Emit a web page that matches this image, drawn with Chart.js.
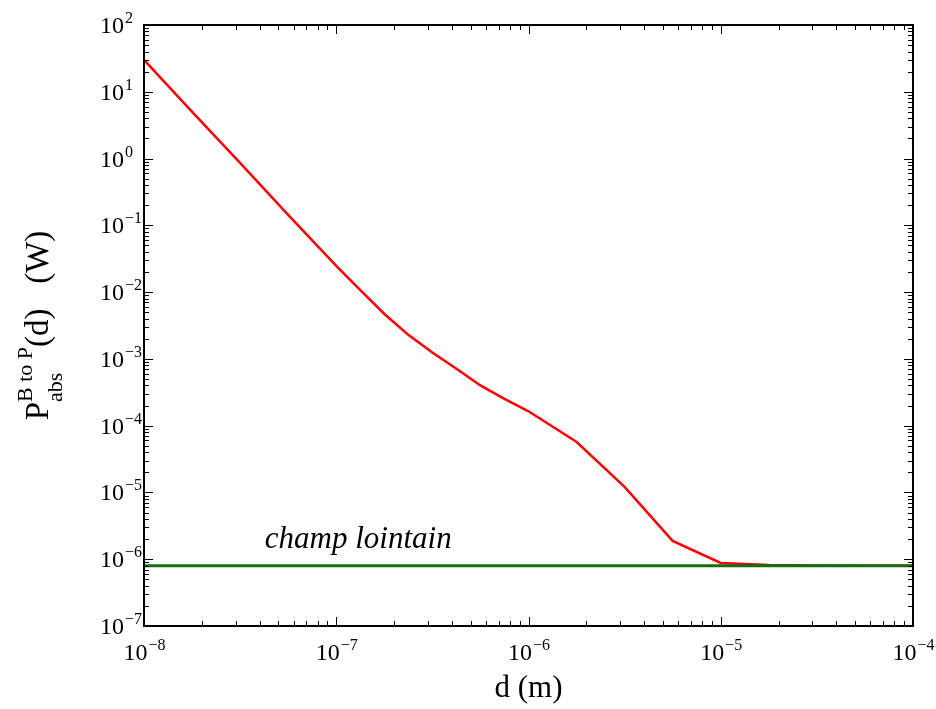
<!DOCTYPE html>
<html>
<head>
<meta charset="utf-8">
<script src="https://cdn.jsdelivr.net/npm/chart.js@4.4.1/dist/chart.umd.min.js"></script>
<style>
  body { margin: 0; background: #fff; }
  canvas { display: block; }
</style>
</head>
<body>
<canvas id="absChart" width="936" height="709"></canvas>
<script>
// distance d (m)
const distances = [1e-8, 1.78e-8, 3.16e-8, 5.62e-8, 1e-7, 1.33e-7, 1.78e-7, 2.37e-7, 3.16e-7,
                   4.22e-7, 5.62e-7, 7.5e-7, 1e-6, 1.78e-6, 3.16e-6, 5.62e-6, 1e-5,
                   1.78e-5, 3.16e-5, 5.62e-5, 1e-4];
// absorbed power B to P (W)
const powerAbs = [30, 5.0, 0.86, 0.143, 0.0247, 0.0108, 4.7e-3, 2.29e-3, 1.25e-3,
                  7.1e-4, 4.0e-4, 2.52e-4, 1.64e-4, 5.7e-5, 1.21e-5, 1.88e-6, 8.8e-7,
                  8.2e-7, 8.05e-7, 8.0e-7, 8.0e-7];
// far field level
const farFieldD = [1e-8, 1e-4];
const farFieldP = [8e-7, 8e-7];
const farFieldLabel = 'champ lointain';

const xTickExps = [-8, -7, -6, -5, -4];
const yTickExps = [-7, -6, -5, -4, -3, -2, -1, 0, 1, 2];

const serif = '"Liberation Serif", "DejaVu Serif", serif';

function drawPow(ctx, exp, px, py, align) {
  // "10" with a superscript exponent
  const expText = (exp < 0 ? '\u2212' : '') + Math.abs(exp);
  ctx.font = '24px ' + serif;
  const wBase = ctx.measureText('10').width;
  ctx.font = '16px ' + serif;
  const wExp = ctx.measureText(expText).width;
  let x0 = px;
  if (align === 'center') x0 = px - (wBase + wExp) / 2;
  ctx.textAlign = 'left';
  ctx.textBaseline = 'alphabetic';
  ctx.font = '24px ' + serif;
  ctx.fillText('10', x0, py);
  ctx.font = '16px ' + serif;
  ctx.fillText(expText, x0 + wBase + 1, py - 10);
}

const framePlugin = {
  id: 'frame',
  afterDraw(chart) {
    const { ctx, chartArea: a, scales: { x, y } } = chart;
    ctx.save();
    ctx.strokeStyle = '#000';
    ctx.fillStyle = '#000';
    ctx.lineWidth = 1;

    // ticks, pointing inward on all four sides
    ctx.beginPath();
    xTickExps.forEach(e => {
      for (let m = 1; m <= 9; m++) {
        const v = m * Math.pow(10, e);
        if (v > 1.0001e-4) break;
        const px = Math.round(x.getPixelForValue(v)) + 0.5;
        const len = m === 1 ? 9 : 5;
        ctx.moveTo(px, a.bottom); ctx.lineTo(px, a.bottom - len);
        ctx.moveTo(px, a.top); ctx.lineTo(px, a.top + len);
      }
    });
    yTickExps.forEach(e => {
      for (let m = 1; m <= 9; m++) {
        const v = m * Math.pow(10, e);
        if (v > 100.01) break;
        const py = Math.round(y.getPixelForValue(v)) + 0.5;
        const len = m === 1 ? 9 : 5;
        ctx.moveTo(a.left, py); ctx.lineTo(a.left + len, py);
        ctx.moveTo(a.right, py); ctx.lineTo(a.right - len, py);
      }
    });
    ctx.stroke();

    ctx.lineWidth = 2;
    ctx.strokeRect(a.left, a.top, a.right - a.left, a.bottom - a.top);

    // tick labels
    xTickExps.forEach(e => {
      drawPow(ctx, e, x.getPixelForValue(Math.pow(10, e)), a.bottom + 34, 'center');
    });
    yTickExps.forEach(e => {
      drawPow(ctx, e, 100, y.getPixelForValue(Math.pow(10, e)) + 8, 'left');
    });

    // x title
    ctx.font = '31px ' + serif;
    ctx.textAlign = 'center';
    ctx.fillText('d (m)', (a.left + a.right) / 2, 697);

    // y title: P_abs^{B to P}(d)   (W)
    ctx.save();
    ctx.translate(48, (a.top + a.bottom) / 2);
    ctx.rotate(-Math.PI / 2);
    ctx.textAlign = 'left';
    ctx.font = '33px ' + serif;
    const wP = ctx.measureText('P').width;
    const rest = '(d)   (W)';
    const wRest = ctx.measureText(rest).width;
    ctx.font = '22px ' + serif;
    const wSup = ctx.measureText('B to P').width;
    const wSub = ctx.measureText('abs').width;
    const wScript = Math.max(wSup, wSub);
    let cx = -(wP + wScript + wRest) / 2;
    ctx.font = '33px ' + serif;
    ctx.fillText('P', cx, 0);
    cx += wP;
    ctx.font = '22px ' + serif;
    ctx.fillText('B to P', cx, -16);
    ctx.fillText('abs', cx, 14);
    cx += wScript;
    ctx.font = '33px ' + serif;
    ctx.fillText(rest, cx, 0);
    ctx.restore();

    // far field annotation
    ctx.font = 'italic 31px ' + serif;
    ctx.textAlign = 'left';
    ctx.fillText(farFieldLabel, x.getPixelForValue(4.25e-8), y.getPixelForValue(farFieldP[0]) - 18);

    ctx.restore();
  }
};

const ctx = document.getElementById('absChart').getContext('2d');
new Chart(ctx, {
  type: 'line',
  data: {
    datasets: [{
      label: 'P abs',
      data: distances.map((d, i) => ({ x: d, y: powerAbs[i] })),
      borderColor: '#ff0000',
      borderWidth: 2.5,
      pointRadius: 0,
      fill: false,
      order: 2
    }, {
      label: farFieldLabel,
      data: farFieldD.map((d, i) => ({ x: d, y: farFieldP[i] })),
      borderColor: '#107010',
      borderWidth: 3,
      pointRadius: 0,
      fill: false,
      order: 1
    }]
  },
  options: {
    responsive: false,
    animation: false,
    devicePixelRatio: 1,
    layout: { padding: { left: 144, top: 25, right: 23, bottom: 83 } },
    plugins: { legend: { display: false }, tooltip: { enabled: false } },
    scales: {
      x: { type: 'logarithmic', min: 1e-8, max: 1e-4, display: false },
      y: { type: 'logarithmic', min: 1e-7, max: 100, display: false }
    }
  },
  plugins: [framePlugin]
});
</script>
</body>
</html>
